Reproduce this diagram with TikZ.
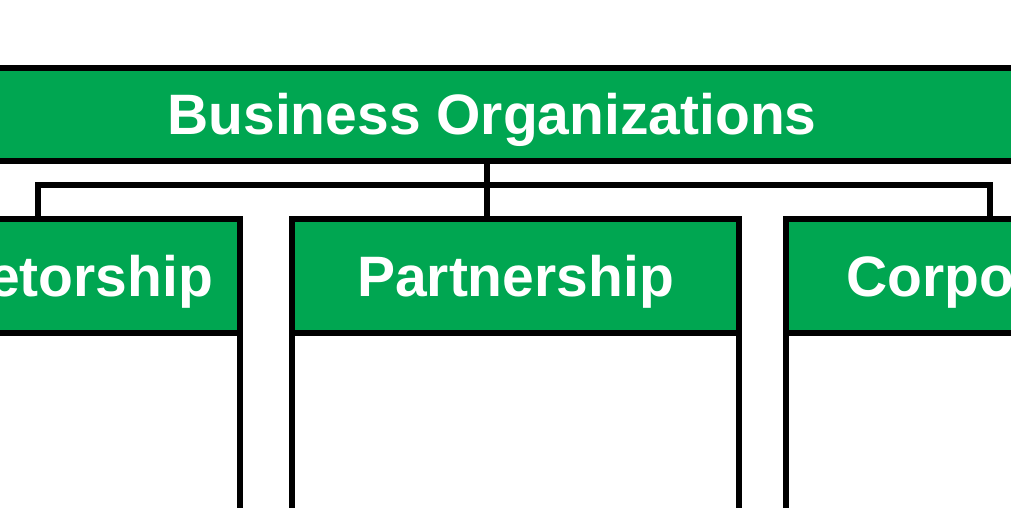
\documentclass[tikz,border=0pt]{standalone}
\usepackage{fontspec}
\setmainfont{Liberation Sans}
\definecolor{orggreen}{RGB}{0,166,81}
\tikzset{
  line/.style={line width=6pt, line join=miter, line cap=rect},
  hdr/.style={draw=black, line width=6pt, fill=orggreen, text=white,
    inner sep=0pt, outer sep=0pt, minimum height=114pt, minimum width=447pt,
    font=\bfseries\fontsize{57}{60}\selectfont, text height=40.8pt, text depth=0pt},
  banner/.style={hdr, minimum height=93pt, minimum width=1100pt},
  side/.style={line width=6pt, line cap=butt}
}
\begin{document}
\begin{tikzpicture}[x=1pt,y=-1pt]
\useasboundingbox (0,0) rectangle (1011,531);
\clip (0,0) rectangle (1011,531);
\node[banner] (org) at (492,114.5) {Business Organizations};
\node[hdr] (sole) at (16.5,276) {Proprietorship};
\node[hdr] (partner) at (515.5,276) {Partnership};
\node[hdr] (corp) at (1009.5,276) {Corporation};
\coordinate (jl) at (38,185);
\coordinate (jm) at (487,185);
\coordinate (jr) at (990,185);
\draw[line] (sole.north -| jl) -- (jl) -- (jr) -- (corp.north -| jr);
\draw[side] (org.south -| jm) -- (partner.north -| jm);
\foreach \b in {sole,partner,corp}{
  \draw[side] ([yshift=3pt]\b.south west) -- ++(0,178);
  \draw[side] ([yshift=3pt]\b.south east) -- ++(0,178);
}
\end{tikzpicture}
\end{document}
